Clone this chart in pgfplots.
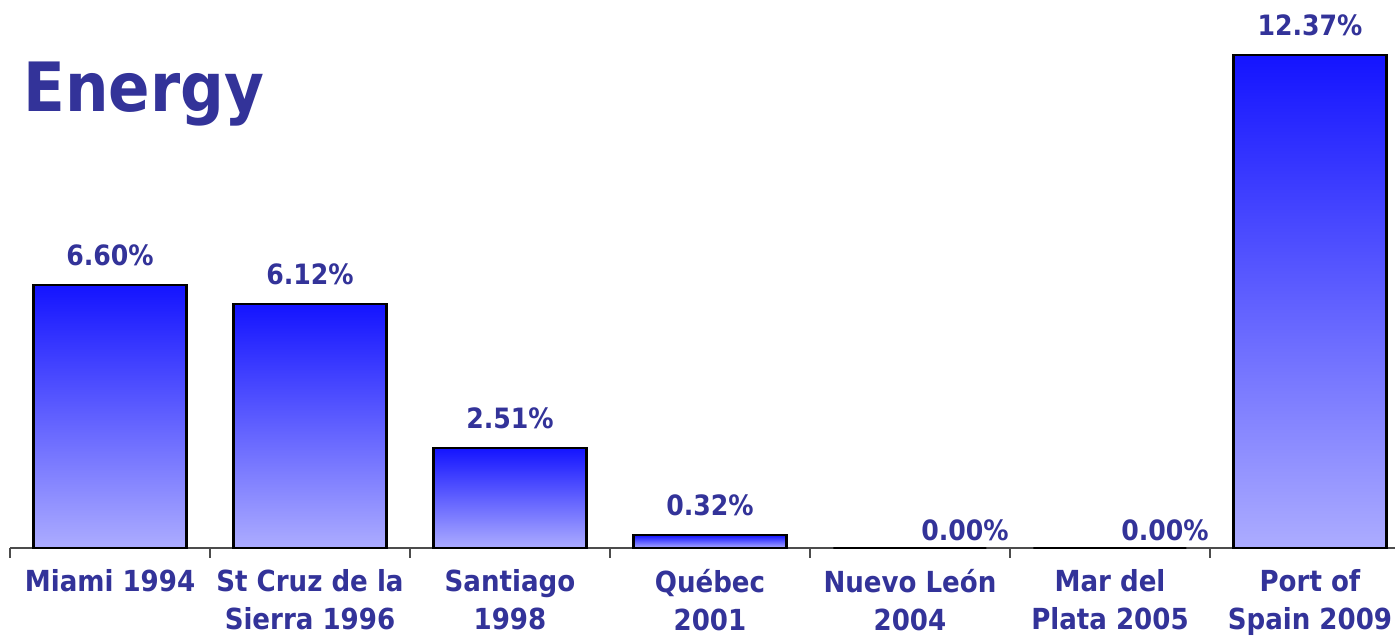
\documentclass[border=0pt]{standalone}
\usepackage{pgfplots}
\pgfplotsset{compat=1.18}
\usepackage{fontspec}
\setmainfont{DejaVu Sans Condensed}[BoldFont={DejaVu Sans Condensed Bold}]
\definecolor{labelblue}{RGB}{51,51,153}
\definecolor{barTop}{RGB}{20,20,255}
\definecolor{barBot}{RGB}{172,172,255}
\pgfplotsset{gbar/.style={draw=black, line width=2.2pt, top color=barTop, bottom color=barBot, bar shift=0pt}}
\begin{document}
\begin{tikzpicture}
\useasboundingbox (-10pt,-91pt) rectangle (1385pt,548pt);
\begin{axis}[
  at={(0pt,0pt)}, anchor=south west,
  scale only axis, width=1385pt, height=548pt,
  xmin=-0.5, xmax=6.425, ymin=0, ymax=13.75,
  axis y line=none, axis x line*=bottom,
  x axis line style={-, draw=gray!60!black, line width=1.2pt},
  xtick={0,...,6},
  xticklabels={Miami 1994, St Cruz de la\\Sierra 1996, Santiago\\1998, Québec\\2001, Nuevo León\\2004, Mar del\\Plata 2005, Port of\\Spain 2009},
  major tick length=0pt,
  extra x ticks={-0.5,0.5,1.5,2.5,3.5,4.5,5.5},
  extra x tick labels={},
  extra x tick style={major tick length=10pt, tick align=outside, tick style={draw=gray!60!black, line width=1.2pt}},
  xticklabel style={align=center, anchor=north, text=labelblue, font=\fontsize{29pt}{38pt}\selectfont\bfseries, yshift=-18pt},
  clip=false,
  ybar, bar width=153pt,
  /pgf/number format/assume math mode=true,
  nodes near coords={\pgfmathprintnumber[fixed,fixed zerofill,precision=2]{\pgfplotspointmeta}\%},
  every node near coord/.append style={text=labelblue, font=\fontsize{28pt}{32pt}\selectfont\bfseries, yshift=15pt},
]
\addplot[gbar] coordinates {(0,6.60)};
\addplot[gbar] coordinates {(1,6.12)};
\addplot[gbar] coordinates {(2,2.51)};
\addplot[gbar] coordinates {(3,0.32)};
\addplot[gbar] coordinates {(6,12.37)};
\addplot[draw=black, line width=2.2pt, fill=none, bar shift=0pt,
  every node near coord/.append style={xshift=55pt, yshift=-12pt}]
  coordinates {(4,0) (5,0)};
\end{axis}
\node[anchor=base west, inner sep=0pt, text=labelblue, font=\fontsize{68pt}{80pt}\selectfont\bfseries] at (13pt,436pt) {Energy};
\end{tikzpicture}
\end{document}
